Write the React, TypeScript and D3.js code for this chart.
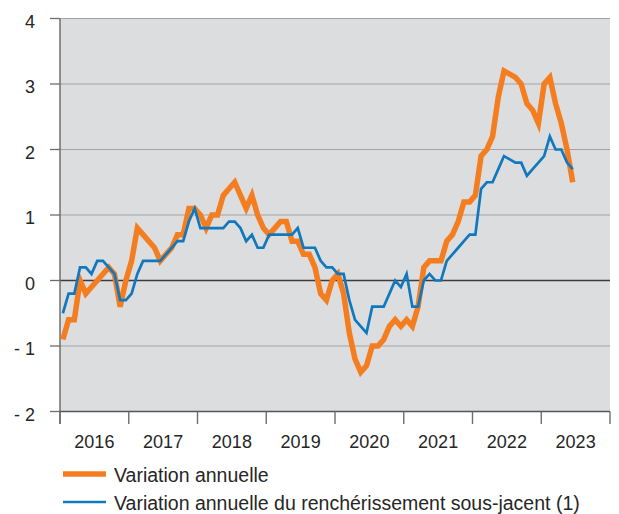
import React, { useEffect, useRef } from 'react';
import * as d3 from 'd3';

// years shown on the x axis (each one is a band of 12 months)
const years = ['2016', '2017', '2018', '2019', '2020', '2021', '2022', '2023'];

// monthly values, Jan 2016 -> Jun 2023
const annualChange = [
  -0.9, -0.6, -0.6, 0.0, -0.2, -0.1, 0.0, 0.1, 0.2, 0.1, -0.4, 0.0,
  0.3, 0.8, 0.7, 0.6, 0.5, 0.3, 0.4, 0.5, 0.7, 0.7, 1.1, 1.1,
  1.0, 0.8, 1.0, 1.0, 1.3, 1.4, 1.5, 1.3, 1.1, 1.3, 1.0, 0.8,
  0.7, 0.8, 0.9, 0.9, 0.6, 0.6, 0.4, 0.4, 0.2, -0.2, -0.3, 0.0,
  0.1, -0.2, -0.8, -1.2, -1.4, -1.3, -1.0, -1.0, -0.9, -0.7, -0.6, -0.7,
  -0.6, -0.7, -0.4, 0.2, 0.3, 0.3, 0.3, 0.6, 0.7, 0.9, 1.2, 1.2,
  1.3, 1.9, 2.0, 2.2, 2.8, 3.2, 3.15, 3.1, 3.0, 2.7, 2.6, 2.4,
  3.0, 3.1, 2.7, 2.4, 2.0, 1.5,
];

const coreChange = [
  -0.5, -0.2, -0.2, 0.2, 0.2, 0.1, 0.3, 0.3, 0.2, 0.1, -0.3, -0.3,
  -0.2, 0.1, 0.3, 0.3, 0.3, 0.3, 0.4, 0.5, 0.6, 0.6, 0.9, 1.1,
  0.8, 0.8, 0.8, 0.8, 0.8, 0.9, 0.9, 0.8, 0.6, 0.7, 0.5, 0.5,
  0.7, 0.7, 0.7, 0.7, 0.7, 0.8, 0.5, 0.5, 0.5, 0.3, 0.2, 0.2,
  0.1, 0.1, -0.3, -0.6, -0.7, -0.8, -0.4, -0.4, -0.4, -0.2, 0.0, -0.1,
  0.1, -0.4, -0.4, 0.0, 0.1, 0.0, 0.0, 0.3, 0.4, 0.5, 0.6, 0.7,
  0.7, 1.4, 1.5, 1.5, 1.7, 1.9, 1.85, 1.8, 1.8, 1.6, 1.7, 1.8,
  1.9, 2.2, 2.0, 2.0, 1.8, 1.7,
];

const yTicks = [-2, -1, 0, 1, 2, 3, 4];
const yTickLabels = ['- 2', '- 1', '0', '1', '2', '3', '4'];

const legendLabels = [
  'Variation annuelle',
  'Variation annuelle du renchérissement sous-jacent (1)',
];

const ORANGE = '#f47d20';
const BLUE = '#0f78be';
const FONT = '"Liberation Sans", Arial, Helvetica, sans-serif';

const App: React.FC = () => {
  const svgRef = useRef<SVGSVGElement | null>(null);
  const width = 619;
  const height = 514;

  useEffect(() => {
    if (!svgRef.current) return;
    const svg = d3.select(svgRef.current);
    svg.selectAll('*').remove();

    const margin = { top: 18.5, right: 9, bottom: 102.5, left: 60 };
    const plotRight = width - margin.right;
    const plotBottom = height - margin.bottom;

    // one band per month, Jan 2016 .. Dec 2023
    const months = years.flatMap((yr) => d3.range(12).map((m) => `${yr}-${m + 1}`));

    const x = d3.scaleBand<string>().domain(months).range([margin.left, plotRight]).padding(0);
    const xYear = d3.scaleBand<string>().domain(years).range([margin.left, plotRight]).padding(0);
    const y = d3.scaleLinear().domain([-2, 4]).range([plotBottom, margin.top]);

    const xPos = (i: number) => (x(months[i]) as number) + x.bandwidth() / 2;

    // plot background
    svg
      .append('rect')
      .attr('x', margin.left)
      .attr('y', margin.top)
      .attr('width', plotRight - margin.left)
      .attr('height', plotBottom - margin.top)
      .attr('fill', '#dcdddf');

    // horizontal grid lines
    svg
      .append('g')
      .selectAll('line')
      .data(yTicks.filter((t) => t !== -2))
      .join('line')
      .attr('x1', margin.left)
      .attr('x2', plotRight)
      .attr('y1', (d) => y(d))
      .attr('y2', (d) => y(d))
      .attr('stroke', (d) => (d === 0 ? '#3c3c3c' : '#a3a3a3'))
      .attr('stroke-width', (d) => (d === 0 ? 1.3 : 1.2));

    // y axis: line, ticks and labels
    svg
      .append('line')
      .attr('x1', margin.left)
      .attr('x2', margin.left)
      .attr('y1', margin.top)
      .attr('y2', plotBottom + 12.5)
      .attr('stroke', '#6e6e6e')
      .attr('stroke-width', 1.5);

    svg
      .append('g')
      .selectAll('line')
      .data(yTicks)
      .join('line')
      .attr('x1', margin.left - 10)
      .attr('x2', margin.left)
      .attr('y1', (d) => y(d))
      .attr('y2', (d) => y(d))
      .attr('stroke', '#6e6e6e')
      .attr('stroke-width', 1.3);

    svg
      .append('g')
      .selectAll('text')
      .data(yTicks)
      .join('text')
      .attr('x', 35)
      .attr('y', (d) => y(d) + 9)
      .attr('text-anchor', 'end')
      .style('font-family', FONT)
      .style('font-size', '18px')
      .style('fill', '#262626')
      .text((d, i) => yTickLabels[i]);

    // x axis: bottom line, year ticks and labels
    svg
      .append('line')
      .attr('x1', margin.left)
      .attr('x2', plotRight)
      .attr('y1', plotBottom)
      .attr('y2', plotBottom)
      .attr('stroke', '#555555')
      .attr('stroke-width', 1.4);

    const yearEdges = years.map((yr) => xYear(yr) as number).concat([plotRight]);
    svg
      .append('g')
      .selectAll('line')
      .data(yearEdges)
      .join('line')
      .attr('x1', (d) => d)
      .attr('x2', (d) => d)
      .attr('y1', plotBottom)
      .attr('y2', plotBottom + 12.5)
      .attr('stroke', '#6e6e6e')
      .attr('stroke-width', 1.4);

    svg
      .append('g')
      .selectAll('text')
      .data(years)
      .join('text')
      .attr('x', (d) => (xYear(d) as number) + xYear.bandwidth() / 2)
      .attr('y', 447.5)
      .attr('text-anchor', 'middle')
      .style('font-family', FONT)
      .style('font-size', '18px')
      .style('fill', '#262626')
      .text((d) => d);

    // series lines
    const line = d3
      .line<number>()
      .x((d, i) => xPos(i))
      .y((d) => y(d));

    svg
      .append('path')
      .datum(annualChange)
      .attr('fill', 'none')
      .attr('stroke', ORANGE)
      .attr('stroke-width', 5.5)
      .attr('d', line);

    svg
      .append('path')
      .datum(coreChange)
      .attr('fill', 'none')
      .attr('stroke', BLUE)
      .attr('stroke-width', 2.7)
      .attr('d', line);

    // legend
    const legend = [
      { label: legendLabels[0], color: ORANGE, w: 5.5, y: 474 },
      { label: legendLabels[1], color: BLUE, w: 2.7, y: 502 },
    ];
    const lg = svg.append('g').selectAll('g').data(legend).join('g');
    lg.append('line')
      .attr('x1', 63)
      .attr('x2', 106)
      .attr('y1', (d) => d.y)
      .attr('y2', (d) => d.y)
      .attr('stroke', (d) => d.color)
      .attr('stroke-width', (d) => d.w);
    lg.append('text')
      .attr('x', 114)
      .attr('y', (d) => d.y + 7.5)
      .style('font-family', FONT)
      .style('font-size', '19.5px')
      .style('fill', '#262626')
      .text((d) => d.label);
  }, []);

  return (
    <svg
      ref={svgRef}
      width={width}
      height={height}
      style={{ position: 'absolute', left: 0, top: 0, background: '#ffffff' }}
    ></svg>
  );
};

export default App;
